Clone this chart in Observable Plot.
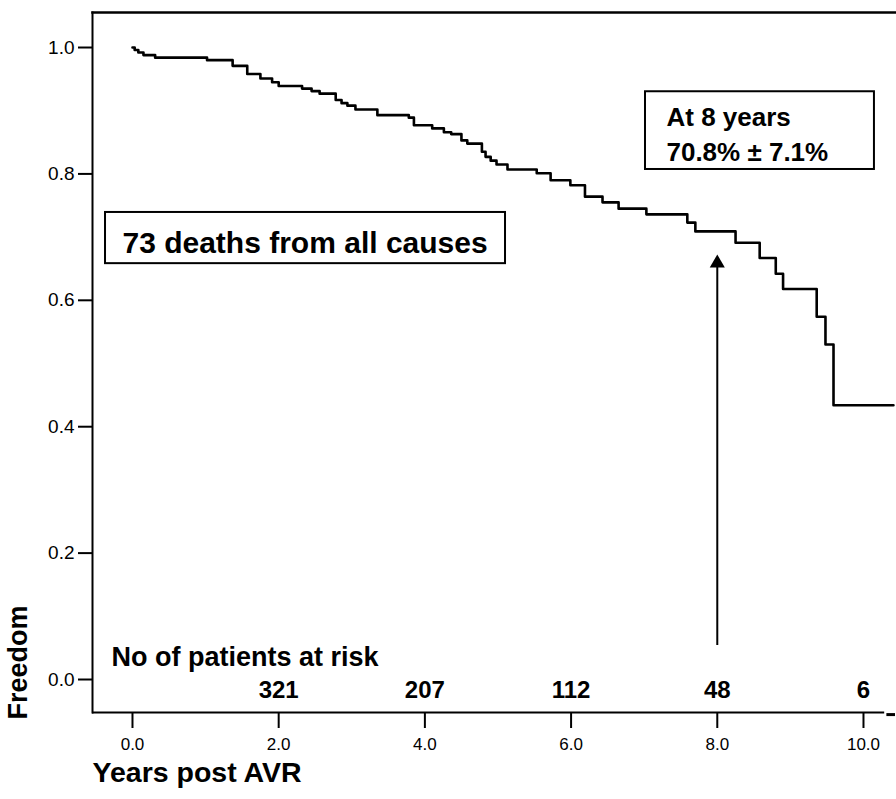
<!DOCTYPE html>
<html>
<head>
<meta charset="utf-8">
<script src="https://cdn.jsdelivr.net/npm/d3@7"></script>
<script src="https://cdn.jsdelivr.net/npm/@observablehq/plot@0.6"></script>
<style>
  html, body { margin: 0; padding: 0; background: #fff; }
  #chart svg { display: block; }
</style>
</head>
<body>
<div id="chart"></div>
<script>
// Kaplan–Meier step points: time (years) and freedom after the step
const years = [0.00, 0.03, 0.08, 0.15, 0.31, 1.02, 1.37, 1.57, 1.75, 1.91, 2.00, 2.32, 2.45, 2.56, 2.78, 2.86, 2.94, 3.05, 3.35, 3.78, 3.85, 4.10, 4.26, 4.36, 4.50, 4.58, 4.78, 4.83, 4.90, 4.98, 5.13, 5.53, 5.72, 5.99, 6.19, 6.43, 6.65, 7.03, 7.59, 7.70, 8.25, 8.58, 8.80, 8.90, 9.36, 9.48, 9.59, 10.41];
const freedom = [1.000, 0.996, 0.992, 0.988, 0.984, 0.980, 0.971, 0.958, 0.951, 0.945, 0.939, 0.935, 0.931, 0.927, 0.917, 0.912, 0.908, 0.902, 0.893, 0.889, 0.877, 0.872, 0.866, 0.863, 0.853, 0.848, 0.835, 0.827, 0.821, 0.815, 0.807, 0.801, 0.790, 0.782, 0.764, 0.755, 0.745, 0.736, 0.723, 0.709, 0.691, 0.667, 0.642, 0.618, 0.574, 0.530, 0.434, 0.434];

// Axis ticks
const xTicks = [0, 2, 4, 6, 8, 10];
const yTicks = [0, 0.2, 0.4, 0.6, 0.8, 1.0];

// Numbers at risk
const riskYears = [2, 4, 6, 8, 10];
const riskCounts = ["321", "207", "112", "48", "6"];

// Annotations
const deathsText = "73 deaths from all causes";
const eightYearLines = ["At 8 years", "70.8% \u00b1 7.1%"];
const riskTitle = "No of patients at risk";
const arrowYear = 8;

const curve = years.map((t, i) => ({t, s: freedom[i]}));
const risk = riskYears.map((t, i) => ({t, n: riskCounts[i]}));

const FONT = "'Liberation Sans', Arial, Helvetica, sans-serif";

const chart = Plot.plot({
  width: 896,
  height: 799,
  marginLeft: 92,
  marginRight: 1,
  marginTop: 12,
  marginBottom: 87,
  style: {fontFamily: FONT, color: "#000", background: "#fff"},
  x: {domain: [-0.547, 10.438]},
  y: {domain: [-0.0522, 1.0554]},
  marks: [
    // frame (left, top, bottom)
    Plot.frame({anchor: "left", strokeWidth: 2}),
    Plot.frame({anchor: "top", strokeWidth: 2.5}),
    Plot.ruleY([-0.0522], {x1: -0.547, x2: 10.29, strokeWidth: 2}),
    Plot.ruleY([-0.0555], {x1: 10.32, x2: 10.438, strokeWidth: 3}),
    Plot.axisY({ticks: yTicks, tickFormat: d3.format(".1f"), tickSize: 14, tickPadding: 4, fontSize: 19, strokeWidth: 2, label: null}),
    Plot.axisX({ticks: xTicks, tickFormat: d3.format(".1f"), tickSize: 16, tickPadding: 9, fontSize: 17, strokeWidth: 2, label: null}),
    // axis titles
    Plot.text(["Freedom"], {frameAnchor: "left", y: [0.027], rotate: -90, dx: -74, fontSize: 27, fontWeight: "bold", textAnchor: "middle"}),
    Plot.text(["Years post AVR"], {frameAnchor: "bottom-left", dy: 69, fontSize: 28.5, fontWeight: "bold", textAnchor: "start"}),
    // KM curve
    Plot.line(curve, {x: "t", y: "s", curve: "step-after", stroke: "#000", strokeWidth: 2.6}),
    // deaths box
    Plot.rect([0], {x1: -0.369, x2: 5.103, y1: 0.658, y2: 0.739, fill: "#fff", stroke: "#000", strokeWidth: 2}),
    Plot.text([deathsText], {x: -0.137, y: 0.690, textAnchor: "start", fontSize: 30, fontWeight: "bold"}),
    // 8-year box
    Plot.rect([0], {x1: 7.018, x2: 10.150, y1: 0.807, y2: 0.930, fill: "#fff", stroke: "#000", strokeWidth: 2}),
    Plot.text(eightYearLines, {x: 7.305, y: [0.889, 0.833], textAnchor: "start", fontSize: 26, fontWeight: "bold"}),
    // arrow
    Plot.ruleX([arrowYear], {y1: 0.054, y2: 0.652, strokeWidth: 2}),
    Plot.dot([arrowYear], {x: d => d, y: [0.6587], symbol: "triangle", r: 5.6, fill: "#000", stroke: null}),
    // numbers at risk
    Plot.text([riskTitle], {x: -0.287, y: 0.035, textAnchor: "start", fontSize: 27, fontWeight: "bold"}),
    Plot.text(risk, {x: "t", y: -0.0174, text: "n", fontSize: 24, fontWeight: "bold"})
  ]
});

document.getElementById("chart").appendChild(chart);
</script>
</body>
</html>
